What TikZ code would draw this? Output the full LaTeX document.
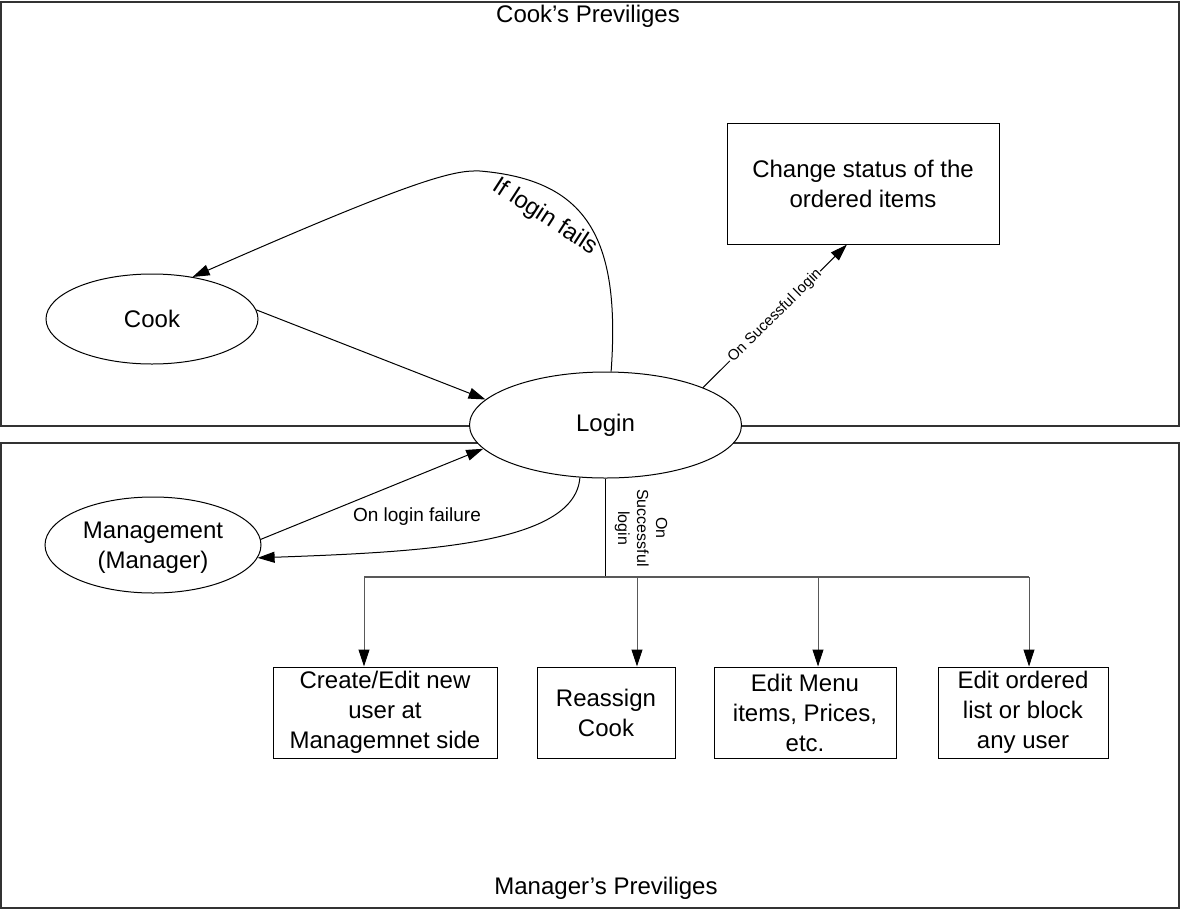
\documentclass[tikz,border=0pt]{standalone}
\usepackage{fontspec}
\setmainfont{Liberation Sans}
\usetikzlibrary{shapes.geometric,arrows.meta}
\tikzset{
  bigfont/.style={font=\fontsize{24}{30}\selectfont},
  area/.style={draw=black!80, line width=1.2pt, rectangle, inner sep=0pt},
  stepbox/.style={draw, rectangle, line width=1pt, inner sep=0pt, align=center, bigfont},
  oval/.style={draw, ellipse, fill=white, line width=1pt, inner sep=0pt, align=center, bigfont},
  arr/.style={-{Triangle[length=17pt,width=11pt,color=black]}, line width=1pt},
  busline/.style={line width=1.2pt, draw=black!65},
}
\begin{document}
\begin{tikzpicture}[x=1pt,y=-1pt]
\useasboundingbox (0,0) rectangle (1180,911);
% areas
\node[area, minimum width=1178pt, minimum height=424pt] (cookarea) at (590,214) {};
\node[area, minimum width=1178pt, minimum height=465pt] (mgrarea) at (590,675.5) {};
\node[bigfont] (cooktitle) at (588,16) {Cook’s Previliges};
\node[bigfont] (mgrtitle) at (606,888) {Manager’s Previliges};
% nodes
\node[oval, minimum width=272pt, minimum height=106pt] (login) at (605.5,425) {Login};
\node[oval, minimum width=212pt, minimum height=90pt] (cook) at (152,319) {Cook};
\node[oval, minimum width=216pt, minimum height=96pt, text depth=0pt] (mgmt) at (153,545) {Management\\(Manager)};
\node[stepbox, minimum width=272pt, minimum height=121pt] (change) at (863,183.5) {Change status of the\\ordered items};
\node[stepbox, minimum width=224pt, minimum height=91pt] (create) at (385,712.5) {Create/Edit new\\user at\\Managemnet side};
\node[stepbox, minimum width=138pt, minimum height=91pt] (reassign) at (606,712.5) {Reassign\\Cook};
\node[stepbox, minimum width=182pt, minimum height=91pt] (menu) at (805,712.5) {Edit Menu\\items, Prices,\\etc.};
\node[stepbox, minimum width=170pt, minimum height=91pt] (orders) at (1023,712.5) {Edit ordered\\list or block\\any user};
% cook connectors
\draw[arr] (cook.5) -- (login.168);
\draw[arr] (login.84) .. controls (621,235) and (585,180) .. (480,171)
  .. controls (455,170) and (420,177) .. (cook.46);
\node[bigfont, rotate=-33] (failtxt) at (545,217) {If login fails};
\draw[arr] (login.21) -- node[sloped, fill=white, inner sep=1pt, font=\fontsize{15}{18}\selectfont] (succ1) {On Sucessful login} ([xshift=-16pt]change.south);
% management connectors
\draw[arr] (mgmt.3) -- (login.191);
\draw[arr] (login.244) .. controls (575,545) and (420,552) .. (mgmt.-7);
\node[font=\fontsize{19}{22}\selectfont] (failtxt2) at (417,517) {On login failure};
% bus
\coordinate (bus) at (login.south |- 0,577);
\coordinate (b1) at (364,577);
\coordinate (b2) at (637,577);
\coordinate (b3) at (818,577);
\coordinate (b4) at (1029,577);
\draw[line width=1pt] (login.south) -- (bus);
\draw[busline] (b1) -- (b4);
\draw[arr, draw=black!65] (b1) -- (b1 |- create.north);
\draw[arr, draw=black!65] (b2) -- (b2 |- reassign.north);
\draw[arr, draw=black!65] (b3) -- (b3 |- menu.north);
\draw[arr, draw=black!65] (b4) -- (b4 |- orders.north);
\node[rotate=-90, align=center, font=\fontsize{16}{19}\selectfont] (succ2) at (641,528) {On\\Successful\\login};
\end{tikzpicture}
\end{document}
